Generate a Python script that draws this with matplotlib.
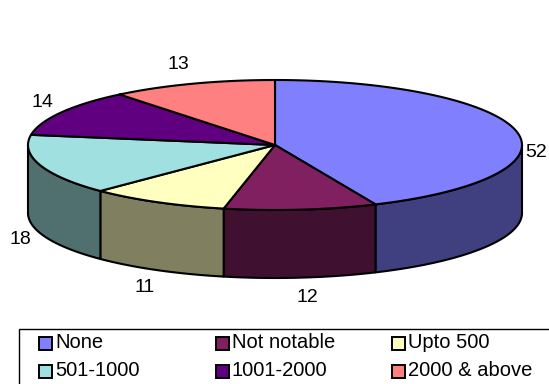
import numpy as np
import matplotlib
matplotlib.use("Agg")
import matplotlib.pyplot as plt
from matplotlib.patches import Polygon, Rectangle
from matplotlib.colors import to_rgb

# Data
categories = ["None", "Not notable", "Upto 500", "501-1000", "1001-2000", "2000 & above"]
values = [52, 12, 11, 18, 14, 13]
colors = ["#8080FF", "#802060", "#FFFFC0", "#A0E0E0", "#600080", "#FF8080"]

plt.rcParams["font.family"] = ["Liberation Sans", "DejaVu Sans"]

W, H = 549, 384
fig = plt.figure(figsize=(W / 100, H / 100), dpi=100)
ax = fig.add_axes([0, 0, 1, 1])
ax.set_xlim(0, W)
ax.set_ylim(H, 0)
ax.axis("off")

# Pie geometry (pixel space, y grows downward)
cx, cy = 275, 145
rx, ry = 247, 65
depth = 68
lw = 1.5


def pt(theta_deg, r_x=rx, r_y=ry, dy=0.0):
    t = np.radians(theta_deg)
    return cx + r_x * np.cos(t), cy - r_y * np.sin(t) + dy


def arc(a0, a1, n=120, dy=0.0):
    th = np.linspace(a0, a1, n)
    x, y = pt(th, dy=dy)
    return np.column_stack([x, y])


def shade(c, f=0.5):
    r, g, b = to_rgb(c)
    return (r * f, g * f, b * f)


total = float(sum(values))
sweeps = [v / total * 360.0 for v in values]
starts = 90.0 - np.concatenate([[0.0], np.cumsum(sweeps)[:-1]])
ends = starts - np.array(sweeps)

# Side walls of the visible (front) half
for a0, a1, c in zip(starts, ends, colors):
    hi = min(a0, 0.0)
    lo = max(a1, -180.0)
    if hi <= lo:
        continue
    top = arc(hi, lo)
    bot = arc(lo, hi, dy=depth)
    ax.add_patch(Polygon(np.vstack([top, bot]), closed=True, facecolor=shade(c),
                         edgecolor="black", linewidth=lw, joinstyle="round"))

# Top faces
for a0, a1, c in zip(starts, ends, colors):
    pts = np.vstack([[cx, cy], arc(a0, a1)])
    ax.add_patch(Polygon(pts, closed=True, facecolor=c, edgecolor="black",
                         linewidth=lw, joinstyle="round"))

# Value labels around the pie
for a0, a1, v in zip(starts, ends, values):
    mid = (a0 + a1) / 2.0
    s = np.sin(np.radians(mid))
    c = np.cos(np.radians(mid))
    f = np.clip((0.5 - s) / 0.8, 0.0, 1.0)
    lx, ly = pt(mid, r_x=rx + 20, r_y=ry + 20, dy=depth * f)
    lx += 12 * np.sign(c) * (1 - abs(c)) * (0.4 if s < 0 else 1.0)
    ax.text(lx, ly, str(v), ha="center", va="center", fontsize=14, color="black")

# Legend box
ax.add_patch(Rectangle((19, 329), 560, 80, facecolor="white", edgecolor="black",
                       linewidth=1.0, clip_on=True))
col_x = [39, 215.5, 392]
row_y = [343, 371]
msz = 13
for i, (name, c) in enumerate(zip(categories, colors)):
    x0 = col_x[i % 3]
    y0 = row_y[i // 3]
    ax.add_patch(Rectangle((x0, y0 - msz / 2), msz, msz, facecolor=c,
                           edgecolor="black", linewidth=1.4))
    ax.text(x0 + msz + 3, y0, name, ha="left", va="center", fontsize=14.5, color="black")

fig.savefig("out.png", dpi=100, facecolor="white")
